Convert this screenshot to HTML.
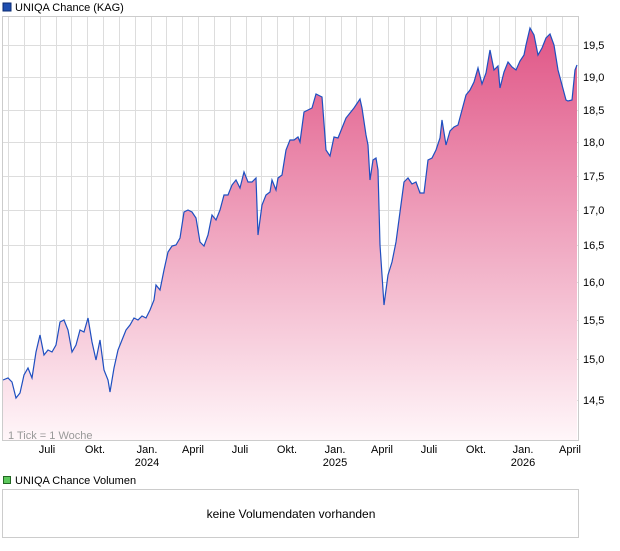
<!DOCTYPE html>
<html><head><meta charset="utf-8"><style>
body{margin:0;background:#fff;width:620px;height:546px;overflow:hidden;font-family:"Liberation Sans",sans-serif}
svg text{font-family:"Liberation Sans",sans-serif}
</style></head><body>
<svg width="620" height="546" xmlns="http://www.w3.org/2000/svg">
<defs><linearGradient id="g" x1="0" y1="0" x2="0" y2="1">
<stop offset="0" stop-color="#e05586"/><stop offset="1" stop-color="#fff6f9"/></linearGradient></defs>
<rect x="3" y="3" width="8" height="8" fill="#1f4fb0" stroke="#0a2a70" stroke-width="1"/>
<text x="15" y="11" font-size="11" fill="#000">UNIQA Chance (KAG)</text>
<rect x="2.5" y="16.5" width="576" height="424" fill="#fff" stroke="#ccc"/>
<g stroke="#ddd" stroke-width="1">
<line x1="3" x2="578" y1="45.5" y2="45.5"/><line x1="3" x2="578" y1="77.5" y2="77.5"/><line x1="3" x2="578" y1="110.5" y2="110.5"/><line x1="3" x2="578" y1="142.5" y2="142.5"/><line x1="3" x2="578" y1="176.5" y2="176.5"/><line x1="3" x2="578" y1="210.5" y2="210.5"/><line x1="3" x2="578" y1="245.5" y2="245.5"/><line x1="3" x2="578" y1="282.5" y2="282.5"/><line x1="3" x2="578" y1="320.5" y2="320.5"/><line x1="3" x2="578" y1="359.5" y2="359.5"/><line x1="3" x2="578" y1="400.5" y2="400.5"/>
<path d="M8.5 17V440M24.5 17V440M40.5 17V440M56.5 17V440M71.5 17V440M87.5 17V440M103.5 17V440M119.5 17V440M135.5 17V440M151.5 17V440M166.5 17V440M182.5 17V440M198.5 17V440M214.5 17V440M230.5 17V440M246.5 17V440M261.5 17V440M277.5 17V440M293.5 17V440M309.5 17V440M325.5 17V440M341.5 17V440M356.5 17V440M372.5 17V440M388.5 17V440M404.5 17V440M420.5 17V440M436.5 17V440M451.5 17V440M467.5 17V440M483.5 17V440M499.5 17V440M515.5 17V440M531.5 17V440M546.5 17V440M562.5 17V440"/>
</g>
<path fill="url(#g)" d="M3,380 L8,378 L12,382 L16,398 L20,393 L24,375 L28,368 L32,378 L36,352 L40,335 L44,355 L48,350 L52,352 L56,345 L60,322 L64,320 L68,330 L72,352 L76,345 L80,330 L84,332 L88,318 L92,342 L96,360 L100,340 L104,370 L108,380 L110,392 L114,368 L118,350 L122,340 L126,330 L130,325 L134,318 L138,320 L142,316 L146,318 L150,310 L154,300 L156,285 L160,290 L164,270 L168,252 L172,246 L176,245 L180,238 L184,212 L188,210 L192,212 L196,218 L200,242 L204,246 L208,235 L212,215 L216,220 L220,210 L224,195 L228,195 L232,185 L236,180 L240,188 L244,172 L248,182 L252,182 L256,178 L258,235 L262,205 L266,195 L270,192 L272,180 L276,190 L278,178 L282,175 L286,150 L290,140 L294,140 L298,137 L300,142 L304,112 L308,110 L312,108 L316,94 L320,96 L322,97 L326,150 L330,156 L334,137 L338,138 L342,128 L346,118 L350,113 L354,108 L358,102 L360,99 L362,108 L366,135 L368,145 L370,180 L373,160 L376,158 L378,170 L380,245 L384,305 L388,275 L392,262 L396,242 L400,212 L404,182 L408,178 L412,184 L416,182 L420,193 L424,193 L428,160 L432,158 L436,150 L440,138 L442,120 L446,145 L450,131 L454,127 L458,125 L462,110 L466,95 L470,90 L474,82 L478,68 L482,84 L486,73 L490,50 L494,70 L498,66 L500,88 L504,72 L508,62 L512,67 L516,70 L520,61 L524,55 L526,45 L530,28 L534,35 L538,55 L542,48 L546,38 L550,34 L554,45 L558,70 L562,85 L566,100 L568,101 L572,100 L575,70 L577,65 L577,440 L3,440 Z"/>
<polyline fill="none" stroke="#1f4fc0" stroke-width="1.2" points="3,380 8,378 12,382 16,398 20,393 24,375 28,368 32,378 36,352 40,335 44,355 48,350 52,352 56,345 60,322 64,320 68,330 72,352 76,345 80,330 84,332 88,318 92,342 96,360 100,340 104,370 108,380 110,392 114,368 118,350 122,340 126,330 130,325 134,318 138,320 142,316 146,318 150,310 154,300 156,285 160,290 164,270 168,252 172,246 176,245 180,238 184,212 188,210 192,212 196,218 200,242 204,246 208,235 212,215 216,220 220,210 224,195 228,195 232,185 236,180 240,188 244,172 248,182 252,182 256,178 258,235 262,205 266,195 270,192 272,180 276,190 278,178 282,175 286,150 290,140 294,140 298,137 300,142 304,112 308,110 312,108 316,94 320,96 322,97 326,150 330,156 334,137 338,138 342,128 346,118 350,113 354,108 358,102 360,99 362,108 366,135 368,145 370,180 373,160 376,158 378,170 380,245 384,305 388,275 392,262 396,242 400,212 404,182 408,178 412,184 416,182 420,193 424,193 428,160 432,158 436,150 440,138 442,120 446,145 450,131 454,127 458,125 462,110 466,95 470,90 474,82 478,68 482,84 486,73 490,50 494,70 498,66 500,88 504,72 508,62 512,67 516,70 520,61 524,55 526,45 530,28 534,35 538,55 542,48 546,38 550,34 554,45 558,70 562,85 566,100 568,101 572,100 575,70 577,65"/>
<text x="8" y="439" font-size="11" fill="#999">1 Tick = 1 Woche</text>
<g font-size="11" fill="#000">
<text x="583" y="49">19,5</text><text x="583" y="81">19,0</text><text x="583" y="114">18,5</text><text x="583" y="146">18,0</text><text x="583" y="180">17,5</text><text x="583" y="214">17,0</text><text x="583" y="249">16,5</text><text x="583" y="286">16,0</text><text x="583" y="324">15,5</text><text x="583" y="363">15,0</text><text x="583" y="404">14,5</text>
</g>
<g font-size="11" fill="#000" text-anchor="middle">
<text x="47" y="453">Juli</text><text x="95" y="453">Okt.</text><text x="147" y="453">Jan.</text><text x="147" y="466">2024</text><text x="193" y="453">April</text><text x="240" y="453">Juli</text><text x="287" y="453">Okt.</text><text x="335" y="453">Jan.</text><text x="335" y="466">2025</text><text x="382" y="453">April</text><text x="429" y="453">Juli</text><text x="476" y="453">Okt.</text><text x="523" y="453">Jan.</text><text x="523" y="466">2026</text><text x="570" y="453">April</text>
</g>
<rect x="3.5" y="476.5" width="7" height="7" fill="#5cc85c" stroke="#226622"/>
<text x="15" y="484" font-size="11" fill="#000">UNIQA Chance Volumen</text>
<rect x="2.5" y="489.5" width="576" height="48" fill="#fff" stroke="#ccc"/>
<text x="291" y="518" font-size="12" fill="#000" text-anchor="middle">keine Volumendaten vorhanden</text>
</svg>
</body></html>
